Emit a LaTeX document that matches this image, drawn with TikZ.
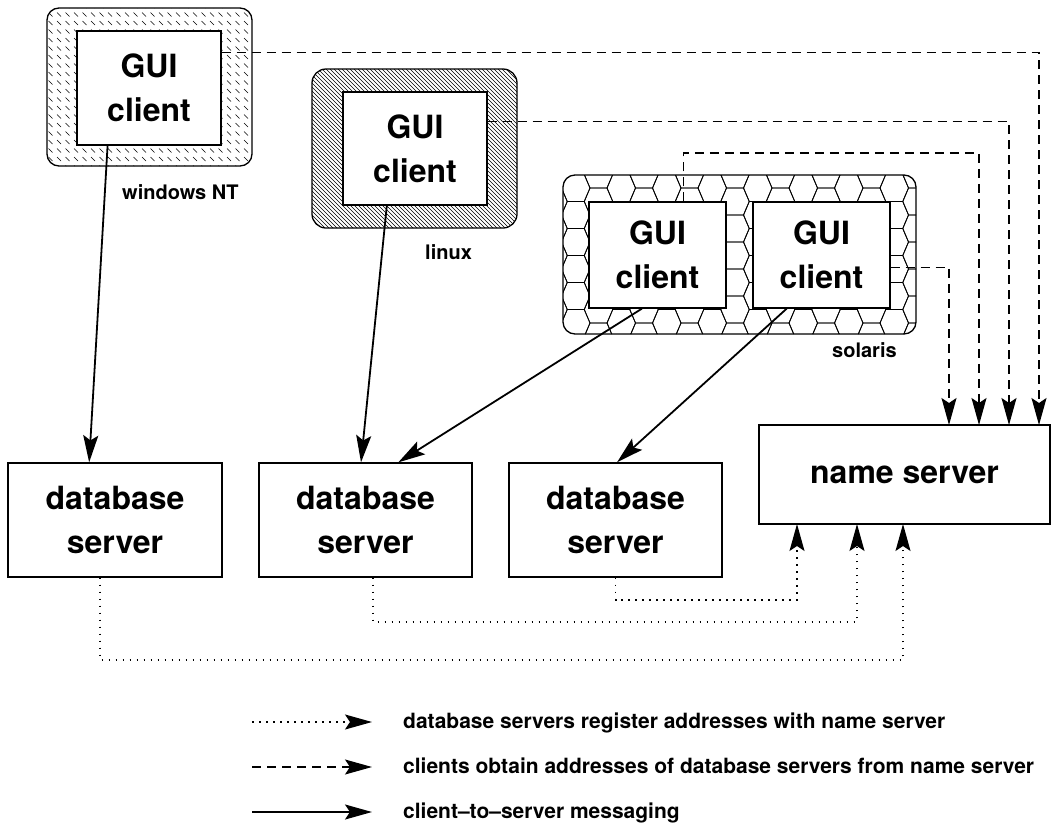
\documentclass[tikz,border=0pt]{standalone}
\usepackage{fontspec}
\setmainfont{TeX Gyre Heros}
\usetikzlibrary{arrows.meta,calc}
\begin{document}
\begin{tikzpicture}[x=1pt,y=-1pt,
  box/.style={draw, line width=1.3pt, fill=white, inner sep=0pt, font=\fontsize{32}{44}\selectfont\bfseries, align=center},
  lbl/.style={font=\fontsize{20}{22}\selectfont\bfseries, anchor=base west, inner sep=0pt},
  legtxt/.style={font=\fontsize{21}{24}\selectfont\bfseries, anchor=base west, inner sep=0pt},
  tip/.style={-{Stealth[length=27pt,width=15pt,inset=5pt]}},
  msg/.style={tip, line width=1.8pt},
  obtain/.style={tip, line width=1.2pt, dash pattern=on 9pt off 6pt},
  reg/.style={tip, line width=1.4pt, dash pattern=on 1.5pt off 5.5pt},
  frameline/.style={line width=1.3pt}]
\useasboundingbox (0,0) rectangle (1052,825);

% windows NT frame
\begin{scope}
\clip[rounded corners=12pt] (47,8) rectangle (252,166);
\foreach \xx in {40,48.5,...,256} \foreach \yy in {4,12.5,...,172} \draw[line width=0.6pt] (\xx,\yy) -- ++(4,4);
\end{scope}
\draw[frameline, rounded corners=12pt] (47,8) rectangle (252,166);

% linux frame
\begin{scope}
\clip[rounded corners=14pt] (312,69) rectangle (517,228);
\foreach \k in {-170,-166,...,210} \draw[line width=0.55pt] (312+\k,69) -- ++(165,165);
\end{scope}
\draw[frameline, rounded corners=14pt] (312,69) rectangle (517,228);

% solaris frame
\begin{scope}
\clip[rounded corners=12pt] (563,175) rectangle (916,334);
\foreach \i in {-8,...,8} {
  \foreach \j in {-1,...,6} {
    \pgfmathsetmacro{\cx}{735+22.75*\i}
    \pgfmathsetmacro{\cy}{201.5+27*\j+13.5*mod(abs(\i),2)}
    \draw[line width=0.8pt] (\cx-14.25,\cy) -- (\cx-8.5,\cy-13.5) -- (\cx+8.5,\cy-13.5) -- (\cx+14.25,\cy) -- (\cx+8.5,\cy+13.5) -- (\cx-8.5,\cy+13.5) -- cycle;
  }
}
\end{scope}
\draw[frameline, rounded corners=12pt] (563,175) rectangle (916,334);

% nodes
\node[box, minimum width=144pt, minimum height=114pt] (gw) at (149,88) {GUI\\client};
\node[box, minimum width=144pt, minimum height=113pt] (gl) at (415,148.5) {GUI\\client};
\node[box, minimum width=137pt, minimum height=106pt] (gs1) at (657.5,255) {GUI\\client};
\node[box, minimum width=137pt, minimum height=106pt] (gs2) at (821.5,255) {GUI\\client};
\node[box, minimum width=214pt, minimum height=114pt] (db1) at (115,520) {database\\server};
\node[box, minimum width=213pt, minimum height=114pt] (db2) at (365.5,520) {database\\server};
\node[box, minimum width=213pt, minimum height=114pt] (db3) at (615.5,520) {database\\server};
\node[box, minimum width=291pt, minimum height=99pt] (ns) at (904.5,474.5) {name server};

\node[lbl] (lw) at (122,199) {windows NT};
\node[lbl] (ll) at (425,259) {linux};
\node[lbl] (ls) at (832,357) {solaris};

% client-to-server messaging
\draw[msg] ($(gw.south west)!0.215!(gw.south east)$) -- ($(db1.north west)!0.38!(db1.north east)$);
\draw[msg] ($(gl.south west)!0.306!(gl.south east)$) -- ($(db2.north west)!0.479!(db2.north east)$);
\draw[msg] ($(gs1.south west)!0.387!(gs1.south east)$) -- ($(db2.north west)!0.653!(db2.north east)$);
\draw[msg] ($(gs2.south west)!0.248!(gs2.south east)$) -- ($(db3.north west)!0.507!(db3.north east)$);

% clients obtain addresses
\coordinate (nsA) at (1039,425);
\coordinate (nsB) at (1009,425);
\coordinate (nsC) at (979,425);
\coordinate (nsD) at (949,425);
\coordinate (rowC) at (0,153);
\coordinate (c3) at ($(gs1.north west)!0.686!(gs1.north east)$);
\draw[obtain] ($(gw.north east)!0.193!(gw.south east)$) -| (nsA);
\draw[obtain] ($(gl.north east)!0.265!(gl.south east)$) -| (nsB);
\draw[obtain] (c3) -- (c3 |- rowC) -| (nsC);
\draw[obtain] ($(gs2.north east)!0.613!(gs2.south east)$) -| (nsD);

% database servers register
\coordinate (nsE) at (903,524);
\coordinate (nsF) at (857,524);
\coordinate (nsG) at (797,524);
\coordinate (rowE) at (0,660);
\coordinate (rowF) at (0,622);
\coordinate (rowG) at (0,600);
\coordinate (d1) at ($(db1.south west)!0.43!(db1.south east)$);
\coordinate (d2) at ($(db2.south west)!0.535!(db2.south east)$);
\coordinate (d3) at ($(db3.south west)!0.5!(db3.south east)$);
\draw[reg] (d1) -- (d1 |- rowE) -| (nsE);
\draw[reg] (d2) -- (d2 |- rowF) -| (nsF);
\draw[reg] (d3) -- (d3 |- rowG) -| (nsG);

% legend
\coordinate (l1a) at (252,722);
\coordinate (l1b) at (372,722);
\coordinate (l2a) at (252,767);
\coordinate (l2b) at (372,767);
\coordinate (l3a) at (252,812);
\coordinate (l3b) at (372,812);
\draw[reg] (l1a) -- (l1b);
\draw[obtain] (l2a) -- (l2b);
\draw[msg] (l3a) -- (l3b);
\node[legtxt] (t1) at (403,728) {database servers register addresses with name server};
\node[legtxt] (t2) at (403,773) {clients obtain addresses of database servers from name server};
\node[legtxt] (t3) at (403,818) {client--to--server messaging};
\end{tikzpicture}
\end{document}
